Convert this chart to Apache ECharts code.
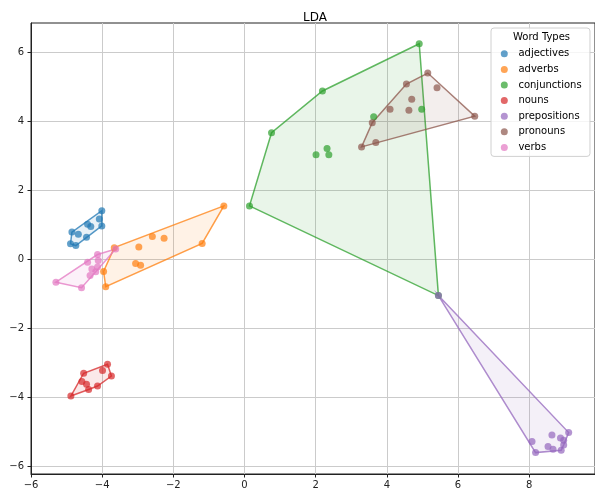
<!DOCTYPE html>
<html><head><meta charset="utf-8">
<script src="https://cdn.jsdelivr.net/npm/echarts@6/dist/echarts.min.js"></script>
<style>html,body{margin:0;padding:0;background:#fff}#c{width:595px;height:490px}</style>
</head><body><div id="c"></div>
<script>
const categories = ['adjectives','adverbs','conjunctions','nouns','prepositions','pronouns','verbs'];
const colors = ['#1f77b4','#ff7f0e','#2ca02c','#d62728','#9467bd','#8c564b','#e377c2'];

const adjectives = [[-4.01,1.41],[-4.08,1.17],[-4.01,0.97],[-4.41,1.02],[-4.32,0.95],[-4.85,0.79],[-4.67,0.73],[-4.44,0.64],[-4.89,0.45],[-4.74,0.40]];
const adverbs = [[-0.58,1.55],[-1.19,0.46],[-2.59,0.66],[-2.26,0.61],[-2.97,0.36],[-3.66,0.34],[-3.06,-0.12],[-2.92,-0.17],[-3.96,-0.35],[-3.90,-0.79]];
const conjunctions = [[4.91,6.25],[2.19,4.88],[0.76,3.67],[0.14,1.55],[3.63,4.13],[4.98,4.35],[2.32,3.21],[2.01,3.03],[2.37,3.03],[5.45,-1.05]];
const nouns = [[-3.85,-3.04],[-3.99,-3.22],[-3.74,-3.38],[-4.52,-3.30],[-4.57,-3.54],[-4.44,-3.62],[-4.38,-3.77],[-4.13,-3.67],[-4.88,-3.96]];
const prepositions = [[9.11,-5.02],[8.64,-5.09],[8.08,-5.28],[8.53,-5.42],[8.88,-5.18],[8.97,-5.24],[8.67,-5.50],[8.90,-5.53],[8.97,-5.38],[8.18,-5.60],[5.45,-1.05]];
const pronouns = [[5.15,5.40],[4.55,5.08],[5.41,4.97],[4.70,4.64],[4.09,4.35],[4.62,4.32],[6.47,4.15],[3.59,3.96],[3.69,3.39],[3.29,3.26]];
const verbs = [[-3.62,0.30],[-4.13,0.14],[-4.41,-0.08],[-4.11,-0.03],[-4.29,-0.28],[-4.13,-0.22],[-4.18,-0.36],[-4.34,-0.47],[-5.30,-0.66],[-4.58,-0.82]];

const xTicks = [-6,-4,-2,0,2,4,6,8];
const yTicks = [-6,-4,-2,0,2,4,6];
const xRange = [-6, 9.85];
const yRange = [-6.22, 6.85];

const groups = [adjectives, adverbs, conjunctions, nouns, prepositions, pronouns, verbs];

function rgba(hex, a) {
  const n = parseInt(hex.slice(1), 16);
  return 'rgba(' + ((n >> 16) & 255) + ',' + ((n >> 8) & 255) + ',' + (n & 255) + ',' + a + ')';
}
function hull(points) {
  const p = points.slice().sort((a, b) => a[0] - b[0] || a[1] - b[1]);
  const cross = (o, a, b) => (a[0]-o[0])*(b[1]-o[1]) - (a[1]-o[1])*(b[0]-o[0]);
  const lower = [];
  for (const q of p) { while (lower.length >= 2 && cross(lower[lower.length-2], lower[lower.length-1], q) <= 0) lower.pop(); lower.push(q); }
  const upper = [];
  for (let i = p.length - 1; i >= 0; i--) { const q = p[i]; while (upper.length >= 2 && cross(upper[upper.length-2], upper[upper.length-1], q) <= 0) upper.pop(); upper.push(q); }
  upper.pop(); lower.pop();
  return lower.concat(upper);
}
const fmt = v => String(v).replace('-', '\u2212');
const font = 'DejaVu Sans';

const series = [];
categories.forEach((name, i) => {
  const h = hull(groups[i]);
  series.push({
    type: 'custom', name: name + ' hull', data: h, z: 2,
    renderItem: (params, api) => {
      if (params.dataIndex !== 0) return null;
      return { type: 'polygon', shape: { points: h.map(p => api.coord(p)) },
        style: { fill: rgba(colors[i], 0.1), stroke: rgba(colors[i], 0.75), lineWidth: 1.5 } };
    }
  });
});
categories.forEach((name, i) => {
  series.push({
    type: 'scatter', name: name, data: groups[i], symbolSize: 7, z: 3,
    itemStyle: { color: colors[i], opacity: 0.7 }
  });
});

const chart = echarts.init(document.getElementById('c'), null, { renderer: 'canvas' });
chart.setOption({
  animation: false,
  backgroundColor: '#fff',
  title: [
    { text: 'LDA', left: 298, top: 7, textStyle: { fontFamily: font, fontSize: 12, fontWeight: 'normal', color: '#000' } },
    { text: 'Word Types', left: 513, top: 32.5, padding: 0, z: 10, textStyle: { fontFamily: font, fontSize: 10, fontWeight: 'normal', color: '#000' } }
  ],
  legend: {
    data: categories, orient: 'vertical', left: 491, top: 28,
    padding: [19.8, 8.3, 3, 9.8], itemGap: 3.6, itemWidth: 18.2, itemHeight: 7, icon: 'circle',
    backgroundColor: 'rgba(255,255,255,0.8)', borderColor: '#d0d0d0', borderWidth: 1, borderRadius: 3,
    textStyle: { fontFamily: font, fontSize: 10, color: '#000', lineHeight: 12 }
  },
  grid: { left: 31, top: 23, width: 567, height: 452, show: true, borderColor: '#222', borderWidth: 1 },
  xAxis: {
    type: 'value', min: xRange[0], max: xRange[1],
    axisLine: { show: true, onZero: false, lineStyle: { color: '#222' } },
    axisTick: { show: true, length: 3.5, lineStyle: { color: '#222' }, customValues: xTicks },
    axisLabel: { margin: 6, fontFamily: font, fontSize: 10, color: '#222', formatter: fmt, customValues: xTicks },
    splitLine: { show: true, lineStyle: { color: '#cbcbcb', width: 1 } }
  },
  yAxis: {
    type: 'value', min: yRange[0], max: yRange[1],
    axisLine: { show: true, onZero: false, lineStyle: { color: '#222' } },
    axisTick: { show: true, length: 3.5, lineStyle: { color: '#222' }, customValues: yTicks },
    axisLabel: { margin: 7, fontFamily: font, fontSize: 10, color: '#222', formatter: fmt, customValues: yTicks },
    splitLine: { show: true, lineStyle: { color: '#cbcbcb', width: 1 } }
  },
  series: series
});
</script></body></html>
